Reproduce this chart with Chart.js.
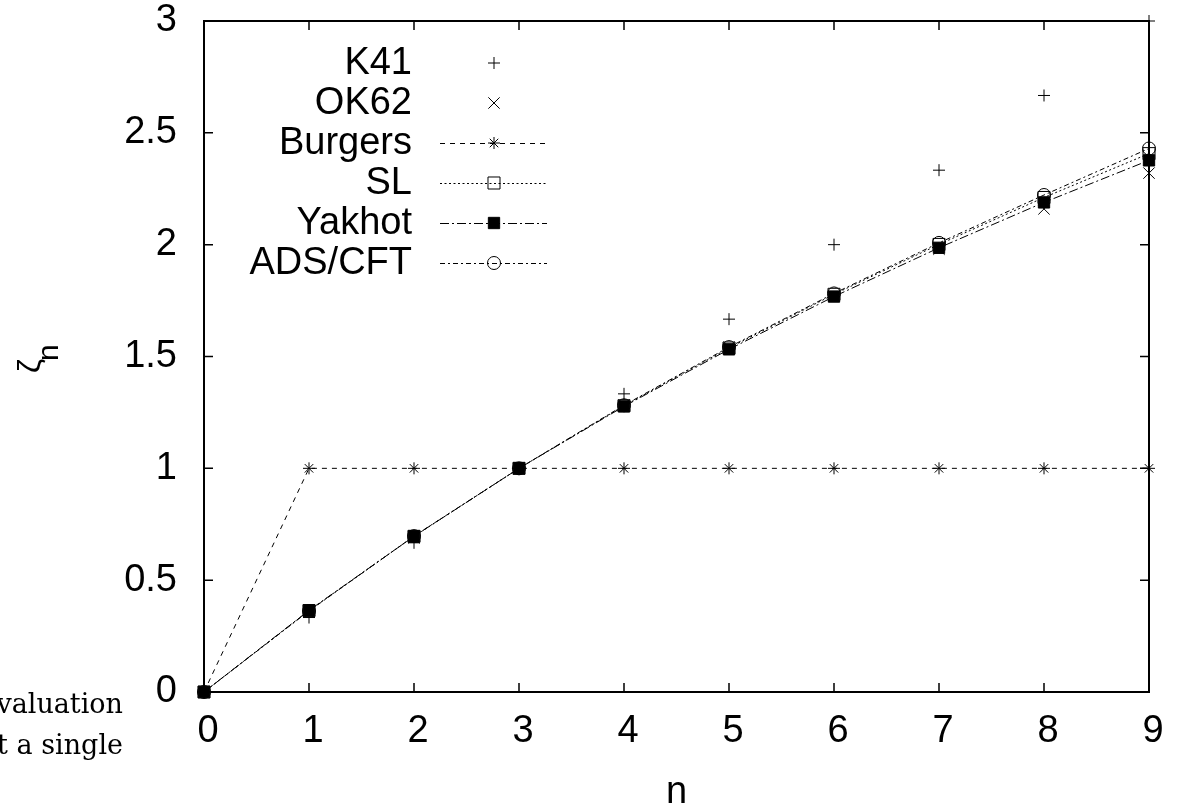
<!DOCTYPE html>
<html><head><meta charset="utf-8">
<script src="https://cdn.jsdelivr.net/npm/chart.js@4.4.0/dist/chart.umd.min.js"></script>
<style>
html,body{margin:0;padding:0;background:#fff;overflow:hidden}
#wrap{position:relative;width:1180px;height:810px;overflow:hidden}
canvas{position:absolute;left:0;top:0}
.side{position:absolute;right:1057px;font-family:"DejaVu Serif",serif;font-size:27px;white-space:nowrap;color:#000;line-height:27px}
</style></head><body>
<div id="wrap"><canvas id="c" width="1180" height="810"></canvas>
<div class="side" style="top:690px">valuation</div>
<div class="side" style="top:731px">t a single</div>
</div>
<script>
const nValues = [0, 1, 2, 3, 4, 5, 6, 7, 8, 9];
const k41 = [0, 0.333, 0.667, 1, 1.333, 1.667, 2, 2.333, 2.667, 3];
const ok62 = [0, 0.36, 0.69, 1, 1.28, 1.54, 1.77, 1.98, 2.16, 2.32];
const burgers = [0, 1, 1, 1, 1, 1, 1, 1, 1, 1];
const sl = [0, 0.364, 0.696, 1, 1.28, 1.538, 1.778, 2.001, 2.211, 2.407];
const yakhot = [0, 0.365, 0.696, 1, 1.277, 1.532, 1.768, 1.986, 2.189, 2.377];
const adsCft = [0, 0.362, 0.697, 1, 1.282, 1.542, 1.782, 2.008, 2.222, 2.43];
const seriesNames = ['K41', 'OK62', 'Burgers', 'SL', 'Yakhot', 'ADS/CFT'];
const xTickLabels = ['0', '1', '2', '3', '4', '5', '6', '7', '8', '9'];
const yTickLabels = ['0', '0.5', '1', '1.5', '2', '2.5', '3'];
const yTitleMain = 'ζ';
const yTitleSub = 'n';
const xTitle = 'n';

const FONT = '"Liberation Sans", Arial, Helvetica, sans-serif';
const toPts = arr => arr.map((v, i) => ({x: nValues[i], y: v}));

const styles = [
  {pointStyle: 'cross', r: 6, dash: null, fill: false, line: false},
  {pointStyle: 'crossRot', r: 8, dash: null, fill: false, line: false},
  {pointStyle: 'star', r: 6, dash: [5, 5], fill: false, line: true},
  {pointStyle: 'rect', r: 8.5, dash: [2, 2.5], fill: false, line: true},
  {pointStyle: 'rect', r: 8, dash: [9, 3, 2, 3], fill: true, line: true},
  {pointStyle: 'circle', r: 6.5, dash: [5, 3, 2, 3], fill: false, line: true}
];
const seriesData = [k41, ok62, burgers, sl, yakhot, adsCft];

const datasets = seriesData.map((arr, i) => {
  const s = styles[i];
  return {
    label: seriesNames[i],
    data: toPts(arr),
    showLine: s.line,
    borderColor: '#000',
    borderWidth: 1,
    borderDash: s.dash || [],
    backgroundColor: s.fill ? '#000' : 'rgba(0,0,0,0)',
    pointStyle: s.pointStyle,
    pointRadius: s.r,
    pointBorderColor: '#000',
    pointBorderWidth: 1,
    pointBackgroundColor: s.fill ? '#000' : 'rgba(0,0,0,0)',
    tension: 0,
    fill: false,
    clip: false,
    order: 5 - i
  };
});

function marker(ctx, style, r, fill, x, y) {
  ctx.save();
  ctx.setLineDash([]);
  ctx.lineWidth = 1;
  ctx.strokeStyle = '#000';
  ctx.fillStyle = '#000';
  ctx.beginPath();
  const d = r * Math.SQRT1_2;
  if (style === 'cross' || style === 'star') {
    ctx.moveTo(x - r, y); ctx.lineTo(x + r, y);
    ctx.moveTo(x, y - r); ctx.lineTo(x, y + r);
  }
  if (style === 'crossRot' || style === 'star') {
    ctx.moveTo(x - d, y - d); ctx.lineTo(x + d, y + d);
    ctx.moveTo(x - d, y + d); ctx.lineTo(x + d, y - d);
  }
  if (style === 'rect') ctx.rect(x - d, y - d, 2 * d, 2 * d);
  if (style === 'circle') ctx.arc(x, y, r, 0, Math.PI * 2);
  if (fill) ctx.fill();
  ctx.stroke();
  ctx.restore();
}

const framePlugin = {
  id: 'frame',
  beforeDatasetsDraw(chart) {
    const {ctx, chartArea: a, scales: {x, y}} = chart;
    ctx.save();
    ctx.strokeStyle = '#000';
    ctx.lineWidth = 2;
    ctx.strokeRect(a.left, a.top, a.right - a.left, a.bottom - a.top);
    ctx.lineWidth = 1.5;
    ctx.beginPath();
    const tl = 9;
    x.ticks.forEach(t => {
      const px = x.getPixelForValue(t.value);
      ctx.moveTo(px, a.bottom); ctx.lineTo(px, a.bottom - tl);
      ctx.moveTo(px, a.top); ctx.lineTo(px, a.top + tl);
    });
    y.ticks.forEach(t => {
      const py = y.getPixelForValue(t.value);
      ctx.moveTo(a.left, py); ctx.lineTo(a.left + tl, py);
      ctx.moveTo(a.right, py); ctx.lineTo(a.right - tl, py);
    });
    ctx.stroke();
    ctx.restore();
  },
  afterDraw(chart) {
    const {ctx} = chart;
    ctx.save();
    ctx.translate(40, 373);
    ctx.rotate(-Math.PI / 2);
    ctx.fillStyle = '#000';
    ctx.textBaseline = 'alphabetic';
    ctx.textAlign = 'left';
    ctx.font = '32px ' + FONT;
    ctx.fillText(yTitleMain, 0, 0);
    const w = ctx.measureText(yTitleMain).width;
    ctx.font = '30px ' + FONT;
    ctx.fillText(yTitleSub, w - 2, 18);
    ctx.restore();
    ctx.save();
    ctx.font = '38px ' + FONT;
    ctx.fillStyle = '#000';
    ctx.textAlign = 'right';
    ctx.textBaseline = 'middle';
    seriesNames.forEach((name, i) => {
      const ry = 63 + 40 * i;
      ctx.fillText(name, 412, ry + 1);
      const s = styles[i];
      if (s.line) {
        ctx.save();
        ctx.strokeStyle = '#000';
        ctx.lineWidth = 1;
        ctx.setLineDash(s.dash);
        ctx.beginPath();
        ctx.moveTo(440, ry + 0.5); ctx.lineTo(547, ry + 0.5);
        ctx.stroke();
        ctx.restore();
      }
      marker(ctx, s.pointStyle, s.r, s.fill, 494, ry);
    });
    ctx.restore();
  }
};

new Chart(document.getElementById('c'), {
  type: 'line',
  data: {datasets},
  options: {
    responsive: false,
    animation: false,
    devicePixelRatio: 1,
    events: [],
    layout: {padding: {top: 21, right: 31, left: 0, bottom: 0}},
    plugins: {legend: {display: false}, tooltip: {enabled: false}},
    scales: {
      x: {
        type: 'linear', min: 0, max: 9,
        grid: {display: false, drawTicks: false},
        border: {display: false},
        ticks: {
          stepSize: 1, padding: 17, labelOffset: 4, color: '#000', maxRotation: 0,
          font: {size: 38, family: FONT},
          callback: v => xTickLabels[v] !== undefined ? xTickLabels[v] : ''
        },
        title: {display: true, text: xTitle, color: '#000', padding: 0,
          font: {size: 38, family: FONT, lineHeight: 0.92}},
        afterFit(s) { s.height = 118; s.paddingLeft = 0; s.paddingRight = 0; }
      },
      y: {
        type: 'linear', min: 0, max: 3,
        grid: {display: false, drawTicks: false},
        border: {display: false},
        ticks: {
          stepSize: 0.5, padding: 27, color: '#000',
          font: {size: 38, family: FONT},
          callback: v => { const k = Math.round(v * 2); return yTickLabels[k] !== undefined ? yTickLabels[k] : ''; }
        },
        afterFit(s) { s.width = 204; s.paddingTop = 0; s.paddingBottom = 0; }
      }
    }
  },
  plugins: [framePlugin]
});
</script>
</body></html>
